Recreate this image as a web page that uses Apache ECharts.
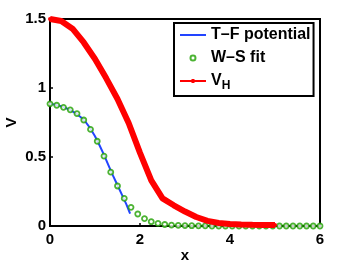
<!DOCTYPE html>
<html><head><meta charset="utf-8">
<script src="https://cdn.jsdelivr.net/npm/echarts@6/dist/echarts.min.js"></script>
<style>html,body{margin:0;padding:0;background:#fff}#c{width:353px;height:265px}</style>
</head><body><div id="c"></div>
<script>
var tfX = [0,0.1,0.2,0.3,0.4,0.5,0.6,0.7,0.8,0.9,1.0,1.1,1.2,1.3,1.4,1.5,1.6,1.7,1.78];
var tfY = [0.885,0.88,0.872,0.862,0.848,0.83,0.81,0.784,0.75,0.705,0.65,0.585,0.515,0.44,0.365,0.295,0.225,0.155,0.09];
var wsX = [0,0.15,0.3,0.45,0.6,0.75,0.9,1.05,1.2,1.35,1.5,1.65,1.8,1.95,2.1,2.25,2.4,2.55,2.7,2.85,3.0,3.15,3.3,3.45,3.6,3.75,3.9,4.05,4.2,4.35,4.5,4.65,4.8,4.95,5.1,5.25,5.4,5.55,5.7,5.85,6.0];
var wsY = [0.885,0.875,0.86,0.842,0.814,0.768,0.70,0.614,0.507,0.39,0.29,0.20,0.135,0.087,0.053,0.031,0.019,0.011,0.007,0.004,0.003,0.002,0.001,0.001,0,0,0,0,0,0,0,0,0,0,0,0,0,0,0,0,0];
var vhX = [0,0.25,0.5,0.75,1.0,1.25,1.5,1.75,2.0,2.25,2.5,2.75,3.0,3.25,3.5,3.75,4.0,4.25,4.5,4.75,5.0];
var vhY = [1.5,1.485,1.43,1.33,1.21,1.07,0.92,0.745,0.53,0.33,0.20,0.15,0.105,0.065,0.037,0.022,0.014,0.011,0.009,0.008,0.007];
var xTicks = [0,2,4,6];
var yTicks = [0,0.5,1,1.5];

function pairs(xs, ys){ return xs.map(function(x,i){return [x, ys[i]];}); }
var font = 'Liberation Sans, Arial, sans-serif';
var chart = echarts.init(document.getElementById('c'), null, {renderer:'canvas'});
chart.setOption({
  animation:false,
  backgroundColor:'#fff',
  grid:{left:50,right:33,top:19,bottom:39,show:true,borderColor:'#000',borderWidth:2,backgroundColor:'transparent',
    containLabel:false,outerBoundsMode:'none'},
  xAxis:{type:'value',min:0,max:6,interval:2,name:'x',nameLocation:'middle',nameGap:22,nameMoveOverlap:false,
    nameTextStyle:{fontFamily:font,fontWeight:'bold',fontSize:15,color:'#000'},
    axisLine:{show:true,lineStyle:{color:'#000',width:2}},
    axisTick:{show:true,inside:true,length:3,lineStyle:{color:'#000',width:1.5}},
    axisLabel:{fontFamily:font,fontWeight:'bold',fontSize:15,color:'#000',margin:6},
    splitLine:{show:false}},
  yAxis:{type:'value',min:0,max:1.5,interval:0.5,name:'V',nameLocation:'middle',nameGap:31,nameRotate:90,nameMoveOverlap:false,
    nameTextStyle:{fontFamily:font,fontWeight:'bold',fontSize:15,color:'#000'},
    axisLine:{show:true,lineStyle:{color:'#000',width:2}},
    axisTick:{show:true,inside:true,length:3,lineStyle:{color:'#000',width:1.5}},
    axisLabel:{fontFamily:font,fontWeight:'bold',fontSize:15,color:'#000',margin:4,
      formatter:function(v){return String(v);}},
    splitLine:{show:false}},
  legend:{orient:'vertical',left:174,top:23,itemWidth:26,itemHeight:12,itemGap:7,
    borderColor:'#000',borderWidth:2,padding:[4,3,4,5],backgroundColor:'#fff',itemTextGap:3,
    textStyle:{fontFamily:font,fontWeight:'bold',fontSize:16,color:'#000',
      rich:{v:{fontFamily:font,fontWeight:'bold',fontSize:16,color:'#000'},
            s:{fontFamily:font,fontWeight:'bold',fontSize:12,color:'#000',padding:[10,0,0,0]}}},
    formatter:function(n){ if(n==='VH') return '{v|V}{s|H}'; return n; },
    data:[
      {name:'T\u2013F potential',icon:'path://M0,0L26,0L26,2L0,2Z'},
      {name:'W\u2013S fit',icon:'path://M-13,-6L-13,-5.99ZM13,6L13,6.01ZM2.5,0A2.5,2.5 0 1 1 -2.5,0A2.5,2.5 0 1 1 2.5,0Z'},
      {name:'VH',icon:'path://M0,-1L26,-1L26,1L0,1ZM11.5,-2L14.5,-2L14.5,2L11.5,2Z'}
    ]},
  series:[
    {name:'T\u2013F potential',type:'line',data:pairs(tfX,tfY),symbol:'none',lineStyle:{color:'#2244ff',width:2},itemStyle:{color:'#2244ff'},z:2},
    {name:'W\u2013S fit',type:'scatter',data:pairs(wsX,wsY),symbol:'circle',symbolSize:5,
      itemStyle:{color:'#fff',borderColor:'#1fa000',borderWidth:1.8},z:3},
    {name:'VH',type:'line',data:pairs(vhX,vhY),symbol:'circle',symbolSize:4,showSymbol:true,
      lineStyle:{color:'#ff0000',width:6},itemStyle:{color:'#ff0000'},z:4}
  ]
});
</script></body></html>
